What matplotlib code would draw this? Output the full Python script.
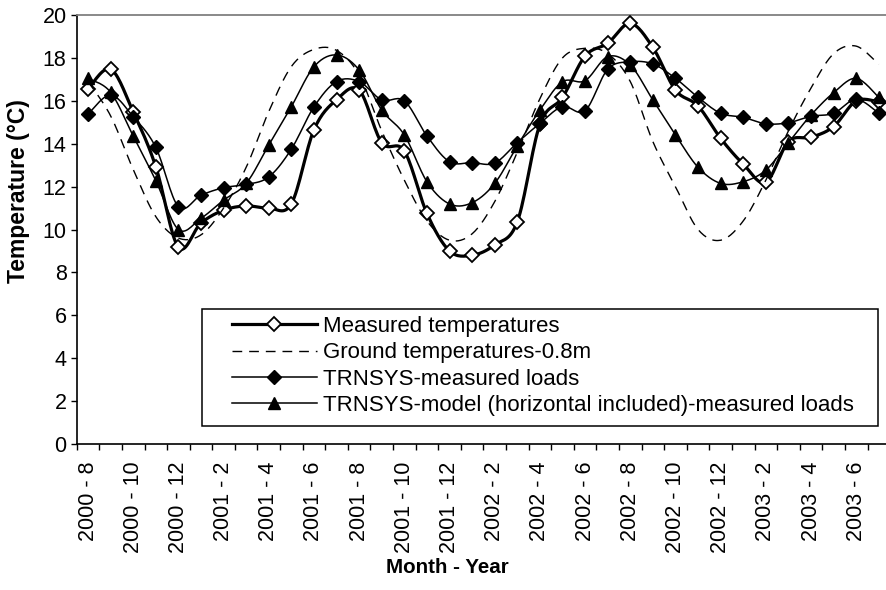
import numpy as np
import matplotlib
matplotlib.use("Agg")
import matplotlib.pyplot as plt
from matplotlib.patches import Rectangle

plt.rcParams['font.family'] = ['Liberation Sans', 'DejaVu Sans']

# months from 2000-8 to 2003-7
years = [2000] * 5 + [2001] * 12 + [2002] * 12 + [2003] * 7
months = list(range(8, 13)) + list(range(1, 13)) * 2 + list(range(1, 8))
month_labels = [f"{y} - {m}" for y, m in zip(years, months)]

measured = [16.55, 17.48, 15.49, 12.93, 9.17, 10.3, 10.9, 11.1, 11.0, 11.2,
            14.65, 16.05, 16.5, 14.05, 13.66, 10.75, 9.0, 8.8, 9.28, 10.36,
            14.9, 16.16, 18.09, 18.68, 19.61, 18.49, 16.5, 15.76, 14.25, 13.05,
            12.2, 14.1, 14.3, 14.8, 16.0, 15.95]
ground = [16.9, 15.3, 12.8, 10.6, 9.6, 9.75, 11.0, 12.9, 15.5, 17.6,
          18.4, 18.35, 17.2, 14.6, 12.3, 10.4, 9.5, 9.8, 11.3, 13.6,
          16.1, 18.0, 18.45, 18.2, 16.9, 14.1, 12.0, 10.0, 9.5, 10.4,
          12.3, 14.6, 16.6, 18.2, 18.55, 17.7]
trnsys_measured = [15.38, 16.27, 15.26, 13.83, 11.06, 11.6, 11.95, 12.1, 12.45, 13.75,
                   15.72, 16.9, 16.9, 16.04, 16.0, 14.36, 13.16, 13.12, 13.1, 14.05,
                   14.95, 15.73, 15.54, 17.47, 17.82, 17.72, 17.05, 16.16, 15.42, 15.23,
                   14.93, 14.98, 15.28, 15.42, 16.07, 15.42]
trnsys_model = [17.05, 16.4, 14.36, 12.28, 10.0, 10.52, 11.37, 12.15, 13.94, 15.73,
                17.59, 18.14, 17.44, 15.57, 14.41, 12.23, 11.19, 11.25, 12.15, 13.9,
                15.57, 16.89, 16.94, 18.06, 17.67, 16.04, 14.41, 12.9, 12.15, 12.23,
                12.77, 14.05, 15.34, 16.38, 17.05, 16.16]

N_SEG = 16


def smooth(vals, n=N_SEG):
    # bezier smoothing through every point, like a spreadsheet "smoothed line"
    p = np.column_stack([np.arange(len(vals)), np.asarray(vals, float)])
    pad = np.vstack([p[0], p, p[-1]])
    t = np.linspace(0, 1, n, endpoint=False)[:, None]
    out = []
    for i in range(len(p) - 1):
        p0, p1, p2, p3 = pad[i], pad[i + 1], pad[i + 2], pad[i + 3]
        c1 = p1 + (p2 - p0) / 6
        c2 = p2 - (p3 - p1) / 6
        out.append((1 - t) ** 3 * p1 + 3 * (1 - t) ** 2 * t * c1
                   + 3 * (1 - t) * t ** 2 * c2 + t ** 3 * p2)
    out.append(p[-1:])
    return np.vstack(out)


fig = plt.figure(figsize=(8.87, 5.9), dpi=100)
ax = fig.add_axes([0.0865, 0.2475, 0.917, 0.727])

s = smooth(measured)
ax.plot(s[:, 0], s[:, 1], color='black', lw=2.3, marker='D', markevery=N_SEG,
        ms=7, mfc='white', mec='black', mew=1.3, label='Measured temperatures', zorder=3)
s = smooth(ground)
ax.plot(s[:, 0], s[:, 1], color='black', lw=1.0, ls=(0, (7, 5)),
        label='Ground temperatures-0.8m', zorder=3.1)
s = smooth(trnsys_measured)
ax.plot(s[:, 0], s[:, 1], color='black', lw=1.1, marker='D', markevery=N_SEG,
        ms=7.5, mfc='black', mec='black', label='TRNSYS-measured loads', zorder=3.2)
s = smooth(trnsys_model)
ax.plot(s[:, 0], s[:, 1], color='black', lw=1.1, marker='^', markevery=N_SEG,
        ms=8.5, mfc='black', mec='black',
        label='TRNSYS-model (horizontal included)-measured loads', zorder=3.3)

ax.set_xlim(-0.5, len(month_labels) - 0.5)
ax.set_ylim(0, 20)
ax.set_yticks(np.arange(0, 21, 2))

centers = np.arange(len(month_labels))
ax.set_xticks(centers[::2])
ax.set_xticklabels(month_labels[::2], rotation=90, fontsize=15.5)
ax.set_xticks(np.arange(len(month_labels) + 1) - 0.5, minor=True)
ax.tick_params(axis='x', which='major', length=0, pad=12.5)
ax.tick_params(axis='x', which='minor', length=4.3, width=1, direction='out')
ax.tick_params(axis='y', length=4.3, width=1, direction='out', pad=3, labelsize=15.5)

for side in ('left', 'bottom'):
    ax.spines[side].set_color('black')
    ax.spines[side].set_linewidth(1.2)
ax.spines['top'].set_color('#808080')
ax.spines['top'].set_linewidth(1.3)
ax.spines['right'].set_visible(False)

ax.set_ylabel('Temperature (°C)', fontsize=16.5, fontweight='bold')
ax.yaxis.set_label_coords(-0.058, 0.59)
ax.set_xlabel('Month - Year', fontsize=14.8, fontweight='bold')
ax.xaxis.set_label_coords(0.456, -0.265)

# legend box drawn separately so the padding can differ left/top
ax.add_patch(Rectangle((0.154, 0.042), 0.831, 0.273, transform=ax.transAxes,
                       facecolor='white', edgecolor='black', lw=1.1, zorder=4.5))
ax.legend(loc='upper left', bbox_to_anchor=(0.191, 0.298), frameon=False,
          borderpad=0, borderaxespad=0, handlelength=3.8, handletextpad=0.3,
          labelspacing=0.24, fontsize=16, numpoints=1)

fig.savefig('out.png', dpi=100)
